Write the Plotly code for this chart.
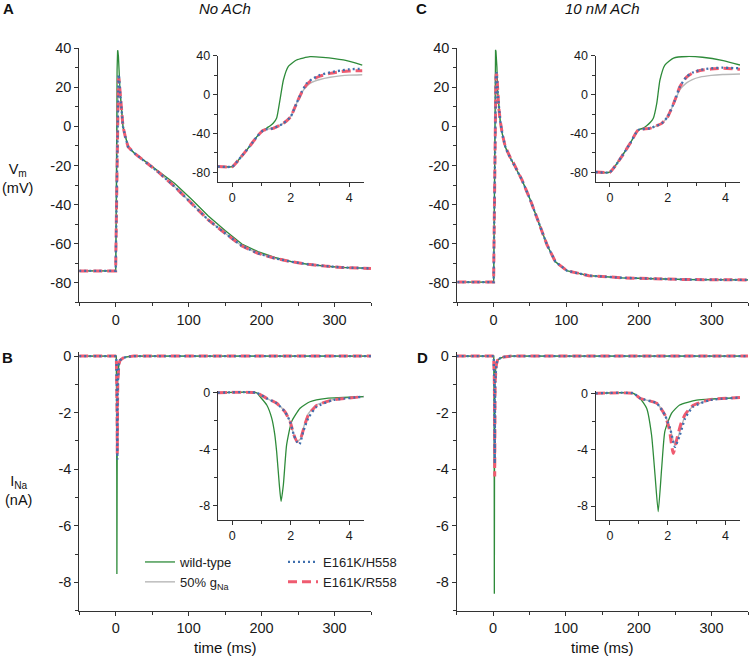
import plotly.graph_objects as go

W, H = 750, 657

# ---------------- data ----------------
# Panel A inset: Vm (mV) vs time (ms), No ACh
A_wt_t   = [-0.5, 0, 0.3, 0.6, 0.85, 1.05, 1.2, 1.3, 1.4, 1.52, 1.63, 1.75, 1.92, 2.2, 2.66, 3.1, 3.8, 4.45]
A_wt_v   = [-74, -74, -64, -53, -43, -37, -34, -32, -29.5, -24, -6, 15, 29, 35.6, 39, 38.3, 35.6, 30.4]
A_mut_t  = [-0.5, 0, 0.3, 0.6, 0.85, 1.05, 1.2, 1.4, 1.75, 2.0, 2.2, 2.38, 2.55, 2.72, 3.0, 3.35, 3.69, 4.0, 4.45]
A_h558_v = [-74, -74, -64, -53, -43, -37, -35.5, -34.7, -29.6, -22.7, -9, 3, 11.6, 15.7, 20.1, 22.9, 24.6, 26, 26.6]
A_r558_v = [-74, -74, -64, -53, -43, -37, -35.5, -34.7, -29.6, -22.7, -9, 2.5, 10.5, 15, 19, 21.8, 23.5, 24.3, 24.6]
A_gna_v  = [-74, -74, -64, -53, -43, -37, -35.5, -34.7, -29.6, -22.7, -9, 2, 8.5, 12.5, 15.5, 17.8, 19.2, 20, 20.4]
# Panel A main: repolarisation after the inset window
A_tail_t   = [6, 10, 13, 17, 25, 35, 58, 81, 104, 127, 150, 173, 195, 218, 241, 264, 287, 310, 350]
A_tail_wt  = [18, 0, -5, -10.4, -13.5, -16.3, -22.8, -29.2, -37.3, -45.9, -53.3, -60.2, -64.1, -67, -69.2, -70.6, -71.5, -72.2, -72.7]
A_tail_mut = [18, 0, -5, -10.4, -13.5, -16.3, -23.2, -30.9, -39.4, -47.9, -54.7, -61.2, -65, -67.5, -69.3, -70.6, -71.5, -72.2, -72.7]

# Panel C inset: Vm (mV), 10 nM ACh
C_wt_t   = [-0.5, 0, 0.4, 0.7, 0.98, 1.15, 1.27, 1.4, 1.5, 1.62, 1.73, 1.9, 2.2, 2.65, 3.2, 3.92, 4.5]
C_wt_v   = [-79.7, -79.7, -64, -50, -36.4, -34.5, -32, -28.5, -24.4, -9, 15, 30.4, 37.6, 39.2, 38.4, 34.9, 30.4]
C_mut_t  = [-0.5, 0, 0.4, 0.7, 0.98, 1.38, 1.79, 2.0, 2.25, 2.42, 2.65, 2.85, 3.11, 3.5, 3.9, 4.5]
C_h558_v = [-79.7, -79.7, -64, -50, -36.4, -34.7, -29.6, -22.7, -5.6, 8.1, 18.4, 22.5, 25.3, 27, 27.7, 27]
C_r558_v = [-79.7, -79.7, -64, -50, -36.4, -34.7, -29.6, -22.7, -5.6, 8.1, 18, 22, 24.8, 26.3, 27, 26]
C_gna_v  = [-79.7, -79.7, -64, -50, -36.4, -34.7, -29.6, -22.7, -6.5, 5, 12, 15.5, 18, 19.8, 20.7, 21.2]
# Panel C main
C_tail_t = [5.5, 7, 9, 12, 16, 20, 24, 27.5, 39, 50.5, 62, 73.5, 85, 101, 131, 177, 222, 268, 350]
C_tail_v = [18, 10, 3, -4, -10.4, -14, -16.8, -18.9, -27.4, -37.7, -49.6, -60.7, -69.3, -73.9, -76.4, -77.5, -78, -78.4, -78.6]

# Panel B inset: INa (nA), No ACh
B_wt_t   = [-0.5, 0.83, 0.95, 1.18, 1.35, 1.45, 1.52, 1.61, 1.67, 1.75, 1.86, 2.03, 2.32, 2.66, 3.23, 4.5]
B_wt_i   = [0, 0, -0.28, -0.87, -1.8, -2.9, -4.2, -6.5, -7.7, -6.5, -3.7, -2.05, -1.1, -0.64, -0.4, -0.28]
B_h558_t = [-0.5, 0.83, 1.18, 1.52, 1.8, 1.98, 2.11, 2.2, 2.3, 2.43, 2.6, 2.89, 3.46, 4.5]
B_h558_i = [0, 0, -0.4, -0.75, -1.34, -2.05, -3.0, -3.45, -3.66, -2.76, -1.8, -0.99, -0.52, -0.28]
B_r558_t = [-0.5, 0.83, 1.18, 1.52, 1.8, 1.98, 2.11, 2.22, 2.33, 2.45, 2.6, 2.89, 3.46, 4.5]
B_r558_i = [0, 0, -0.4, -0.75, -1.34, -2.05, -3.0, -3.45, -3.3, -2.5, -1.6, -0.9, -0.5, -0.28]
B_gna_i  = [0, 0, -0.4, -0.75, -1.34, -2.05, -3.0, -3.4, -3.3, -2.4, -1.5, -0.85, -0.48, -0.28]

# Panel D inset: INa (nA), 10 nM ACh
D_wt_t   = [-0.5, 0.81, 1.04, 1.27, 1.44, 1.56, 1.67, 1.79, 1.9, 2.13, 2.41, 3.0, 4.5]
D_wt_i   = [0, 0, -0.35, -1.06, -2.96, -5.8, -8.4, -5.3, -2.7, -1.42, -0.83, -0.48, -0.3]
D_h558_t = [-0.5, 0.81, 1.04, 1.62, 1.9, 2.08, 2.25, 2.42, 2.6, 2.88, 3.46, 4.5]
D_h558_i = [0, 0, -0.35, -0.71, -1.54, -2.48, -3.8, -2.96, -1.78, -0.95, -0.48, -0.3]
D_gna_i  = [0, 0, -0.35, -0.71, -1.54, -2.48, -3.7, -2.7, -1.6, -0.9, -0.46, -0.3]
D_r558_t = [-0.5, 0.81, 1.04, 1.62, 1.9, 2.05, 2.19, 2.32, 2.45, 2.6, 2.88, 3.46, 4.5]
D_r558_i = [0, 0, -0.35, -0.71, -1.54, -2.5, -4.26, -3.2, -2.2, -1.5, -0.85, -0.45, -0.3]

# Current tail after the inset window (B and D main)
I_tail_t = [6, 10, 15, 25, 350]
I_tail_i = [-0.15, -0.07, -0.03, 0, 0]

START_T = [-50]
V_REST_A = [-74]
V_REST_C = [-79.7]
I_REST = [0]

# tick labels (hyphen minus as in the figure)
T_MAIN_VALS = [0, 100, 200, 300]
T_MAIN_TEXT = ["0", "100", "200", "300"]
T_INS_VALS = [0, 2, 4]
T_INS_TEXT = ["0", "2", "4"]
V_MAIN_VALS = [40, 20, 0, -20, -40, -60, -80]
V_MAIN_TEXT = ["40", "20", "0", "-20", "-40", "-60", "-80"]
V_INS_VALS = [40, 0, -40, -80]
V_INS_TEXT = ["40", "0", "-40", "-80"]
I_MAIN_VALS = [0, -2, -4, -6, -8]
I_MAIN_TEXT = ["0", "-2", "-4", "-6", "-8"]
I_INS_VALS = [0, -4, -8]
I_INS_TEXT = ["0", "-4", "-8"]

# ---------------- styles ----------------
STY = {
    "wt":   dict(name="wild-type", line=dict(color="#2e8b3a", width=1.3), legend="legend", legendrank=1),
    "gna":  dict(name="50% g<sub>Na</sub>", line=dict(color="#b8b8b8", width=1.4), legend="legend", legendrank=2),
    "h558": dict(name="E161K/H558", line=dict(color="#3f6fae", width=2.3, dash="2px,3px"), legend="legend2", legendrank=1),
    "r558": dict(name="E161K/R558", line=dict(color="#ef5b70", width=3, dash="9px,5px"), legend="legend2", legendrank=2),
}
ORDER = ["gna", "wt", "r558", "h558"]

fig = go.Figure()

def add(key, t, v, xa, ya, show, smooth):
    s = STY[key]
    line = dict(s["line"])
    if smooth:
        line.update(shape="spline", smoothing=0.5)
    fig.add_trace(go.Scatter(x=t, y=v, mode="lines", name=s["name"], line=line,
                             legend=s["legend"], legendrank=s["legendrank"],
                             showlegend=show, xaxis=xa, yaxis=ya, hoverinfo="skip"))

A_inset = {"wt": (A_wt_t, A_wt_v), "gna": (A_mut_t, A_gna_v), "h558": (A_mut_t, A_h558_v), "r558": (A_mut_t, A_r558_v)}
A_main = {k: (START_T + t + A_tail_t, V_REST_A + v + (A_tail_wt if k == "wt" else A_tail_mut)) for k, (t, v) in A_inset.items()}
C_inset = {"wt": (C_wt_t, C_wt_v), "gna": (C_mut_t, C_gna_v), "h558": (C_mut_t, C_h558_v), "r558": (C_mut_t, C_r558_v)}
C_main = {k: (START_T + t + C_tail_t, V_REST_C + v + C_tail_v) for k, (t, v) in C_inset.items()}
B_inset = {"wt": (B_wt_t, B_wt_i), "gna": (B_r558_t, B_gna_i), "h558": (B_h558_t, B_h558_i), "r558": (B_r558_t, B_r558_i)}
B_main = {k: (START_T + t + I_tail_t, I_REST + v + I_tail_i) for k, (t, v) in B_inset.items()}
D_inset = {"wt": (D_wt_t, D_wt_i), "gna": (D_h558_t, D_gna_i), "h558": (D_h558_t, D_h558_i), "r558": (D_r558_t, D_r558_i)}
D_main = {k: (START_T + t + I_tail_t, I_REST + v + I_tail_i) for k, (t, v) in D_inset.items()}

panels = [
    (A_main, "x", "y", False), (A_inset, "x2", "y2", True),
    (C_main, "x3", "y3", False), (C_inset, "x4", "y4", True),
    (B_main, "x5", "y5", False), (B_inset, "x6", "y6", True),
    (D_main, "x7", "y7", False), (D_inset, "x8", "y8", True),
]
first = True
for data, xa, ya, smooth in panels:
    for k in ORDER:
        t, v = data[k]
        add(k, t, v, xa, ya, first, smooth)
    first = False

# ---------------- layout ----------------
def px_x(a, b):
    return [a / W, b / W]

def px_y(top, bottom):
    return [1 - bottom / H, 1 - top / H]

FONT = "Liberation Sans, Arial, sans-serif"
AX = "#333333"

def axis(dom, rng, vals, text, mdtick, anchor, size):
    return dict(domain=dom, range=rng, anchor=anchor, tickmode="array", tickvals=vals, ticktext=text,
                showgrid=False, zeroline=False, automargin=False,
                showline=True, linecolor=AX, linewidth=1, ticks="outside", ticklen=4, tickcolor=AX,
                tickfont=dict(family=FONT, size=size, color="#1a1a1a"),
                minor=dict(dtick=mdtick, tick0=0, ticks="outside", ticklen=3, tickcolor=AX, showgrid=False))

MAIN_T = [-50, 350]
INS_T = [-0.5, 4.5]
V_R = [-90, 40]
I_R = [-9, 0.15]
MS, IS = 14.5, 12.5

layout = dict(
    width=W, height=H, margin=dict(l=0, r=0, t=0, b=0, pad=0, autoexpand=False),
    paper_bgcolor="white", plot_bgcolor="rgba(0,0,0,0)",
    font=dict(family=FONT, size=13, color="#222"),
    xaxis=axis(px_x(79.2, 371), MAIN_T, T_MAIN_VALS, T_MAIN_TEXT, 50, "y", MS),
    yaxis=axis(px_y(48.3, 302.2), V_R, V_MAIN_VALS, V_MAIN_TEXT, 10, "x", MS),
    xaxis2=axis(px_x(217.7, 363.7), INS_T, T_INS_VALS, T_INS_TEXT, 1, "y2", IS),
    yaxis2=axis(px_y(55.7, 182.1), V_R, V_INS_VALS, V_INS_TEXT, 20, "x2", IS),
    xaxis3=axis(px_x(457.3, 748), MAIN_T, T_MAIN_VALS, T_MAIN_TEXT, 50, "y3", MS),
    yaxis3=axis(px_y(48.3, 302.2), V_R, V_MAIN_VALS, V_MAIN_TEXT, 10, "x3", MS),
    xaxis4=axis(px_x(595.5, 740), INS_T, T_INS_VALS, T_INS_TEXT, 1, "y4", IS),
    yaxis4=axis(px_y(55.7, 182.1), V_R, V_INS_VALS, V_INS_TEXT, 20, "x4", IS),
    xaxis5=axis(px_x(79.2, 371), MAIN_T, T_MAIN_VALS, T_MAIN_TEXT, 50, "y5", MS),
    yaxis5=axis(px_y(351.8, 610.7), I_R, I_MAIN_VALS, I_MAIN_TEXT, 1, "x5", MS),
    xaxis6=axis(px_x(217.7, 363.7), INS_T, T_INS_VALS, T_INS_TEXT, 1, "y6", IS),
    yaxis6=axis(px_y(390.6, 519.8), I_R, I_INS_VALS, I_INS_TEXT, 2, "x6", IS),
    xaxis7=axis(px_x(456.7, 748), MAIN_T, T_MAIN_VALS, T_MAIN_TEXT, 50, "y7", MS),
    yaxis7=axis(px_y(351.8, 610.7), I_R, I_MAIN_VALS, I_MAIN_TEXT, 1, "x7", MS),
    xaxis8=axis(px_x(595.5, 740), INS_T, T_INS_VALS, T_INS_TEXT, 1, "y8", IS),
    yaxis8=axis(px_y(391.2, 520.1), I_R, I_INS_VALS, I_INS_TEXT, 2, "x8", IS),
    legend=dict(x=140 / W, y=1 - 547 / H, xanchor="left", yanchor="top", bgcolor="rgba(0,0,0,0)",
                font=dict(family=FONT, size=13, color="#222"), tracegroupgap=0, itemwidth=30),
    legend2=dict(x=283 / W, y=1 - 547 / H, xanchor="left", yanchor="top", bgcolor="rgba(0,0,0,0)",
                 font=dict(family=FONT, size=13, color="#222"), tracegroupgap=0, itemwidth=30),
    showlegend=True,
)

def ann(text, x, y, size=14):
    return dict(text=text, x=x / W, y=1 - y / H, xref="paper", yref="paper", showarrow=False,
                xanchor="center", yanchor="middle", font=dict(family=FONT, size=size, color="#111"))

layout["annotations"] = [
    ann("<b>A</b>", 8, 8, 15), ann("<b>C</b>", 421, 8, 15),
    ann("<b>B</b>", 7, 357, 15), ann("<b>D</b>", 422, 357, 15),
    ann("<i>No ACh</i>", 225, 8, 15), ann("<i>10 nM ACh</i>", 602, 8, 15),
    ann("V<sub>m</sub><br>(mV)", 17, 178, 14.5),
    ann("I<sub>Na</sub><br>(nA)", 18, 490, 14.5),
    ann("time (ms)", 225, 647, 15), ann("time (ms)", 602, 647, 15),
]

fig.update_layout(**layout)
fig.write_html("out.html", config={"displayModeBar": False},
               post_script="document.body.style.margin='0px';document.body.style.padding='0px';")
